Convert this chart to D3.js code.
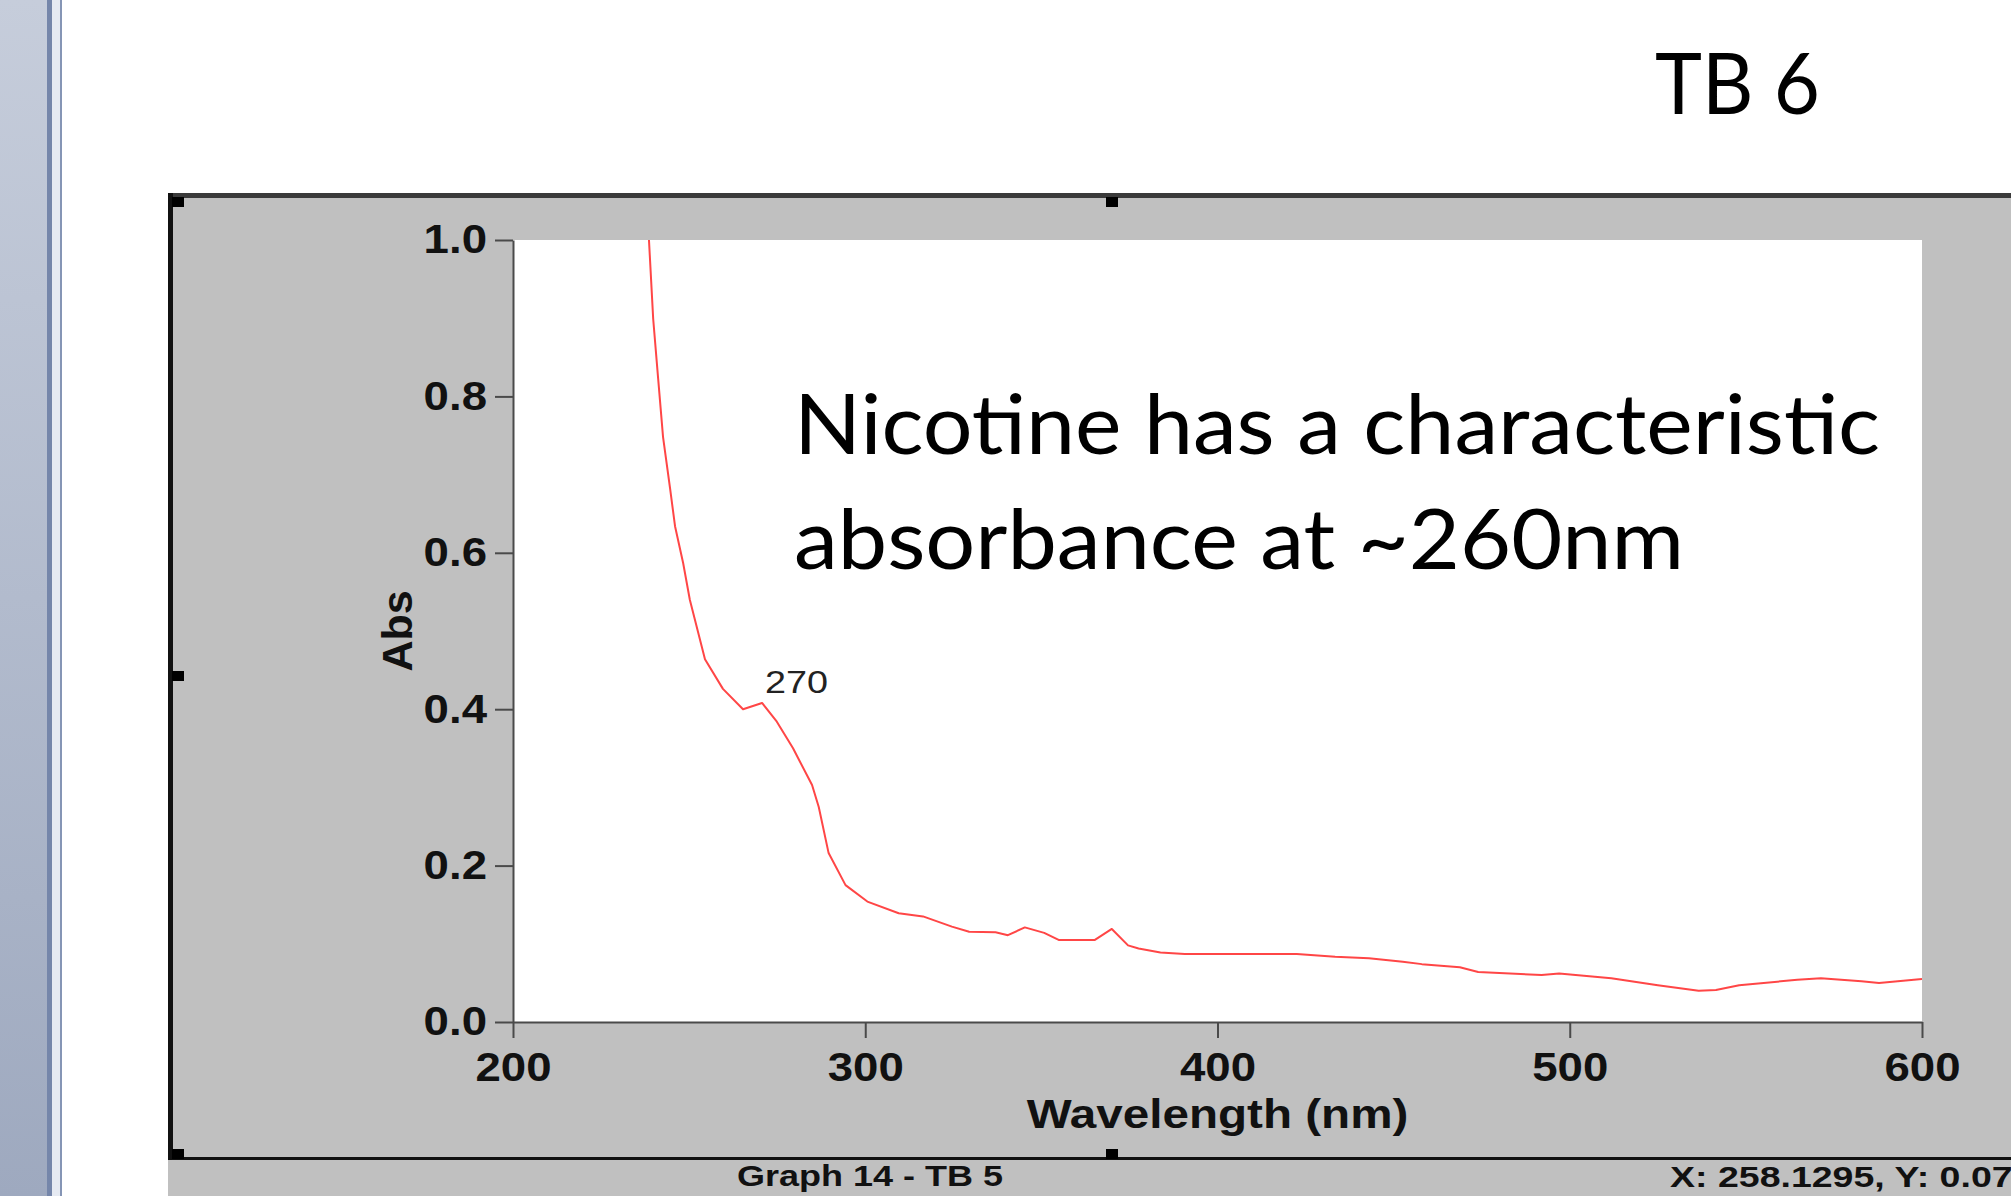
<!DOCTYPE html>
<html>
<head>
<meta charset="utf-8">
<script src="https://cdn.jsdelivr.net/npm/d3@7"></script>
<style>
  html, body { margin: 0; padding: 0; background: #fff; overflow: hidden; }
</style>
</head>
<body>
<svg id="chart" width="2011" height="1196"></svg>
<script>
// spectrum (nm, Abs)
const wavelength = [237.5, 238.6, 239.8, 241.2, 242.6, 244.6, 246.0, 248.3, 250.2, 254.5,
  259.6, 265.3, 270.7, 274.9, 279.5, 284.9, 286.8, 289.6, 294.4, 300.6,
  309.5, 316.4, 324.6, 329.5, 337.0, 340.5, 345.3, 350.8, 354.9, 365.2,
  370.0, 374.6, 377.6, 383.8, 390.7, 422.5, 433.4, 443.0, 452.6, 458.0,
  468.8, 474.0, 492.0, 497.0, 511.8, 525.0, 536.6, 541.5, 548.1, 564.6,
  571.3, 582.8, 587.8, 600.0];
const absorbance = [1.10, 1.0, 0.899, 0.823, 0.748, 0.682, 0.634, 0.587, 0.540, 0.464,
  0.426, 0.400, 0.408, 0.384, 0.350, 0.303, 0.275, 0.216, 0.175, 0.154,
  0.139, 0.135, 0.122, 0.1155, 0.1147, 0.111, 0.121, 0.114, 0.105, 0.105,
  0.119, 0.098, 0.094, 0.089, 0.087, 0.087, 0.0835, 0.0815, 0.077, 0.074,
  0.070, 0.064, 0.060, 0.062, 0.056, 0.047, 0.040, 0.041, 0.047, 0.054,
  0.056, 0.052, 0.050, 0.055];

const xTicks = [200, 300, 400, 500, 600];
const yTicks = [0, 0.2, 0.4, 0.6, 0.8, 1.0];
const xDomain = [200, 600];
const yDomain = [0, 1];

const peakWavelength = 270.7;
const peakAbs = 0.408;
const peakLabel = "270";

const slideTitle = "TB 6";
const noteLines = ["Nicotine has a characteristic", "absorbance at ~260nm"];
const xTitle = "Wavelength (nm)";
const yTitle = "Abs";
const graphTitle = "Graph 14 - TB 5";
const cursorReadout = "X: 258.1295, Y: 0.07";

const W = 2011, H = 1196;
const plot = { left: 513, right: 1922, top: 240, bottom: 1022 };
const GRAPH_FONT = "'Liberation Sans', Arial, sans-serif";
const SLIDE_FONT = "Lato, 'Open Sans', sans-serif";

const svg = d3.select("#chart");

// stretch text horizontally (the screenshot is wider than it is tall)
function stretch(sel, k) {
  sel.each(function () {
    const len = this.getComputedTextLength();
    d3.select(this).attr("textLength", len * k).attr("lengthAdjust", "spacingAndGlyphs");
  });
}

// --- window strip on the left ---
const defs = svg.append("defs");
const grad = defs.append("linearGradient").attr("id", "strip")
  .attr("x1", 0).attr("y1", 0).attr("x2", 0).attr("y2", 1);
grad.append("stop").attr("offset", "0%").attr("stop-color", "#c6cddb");
grad.append("stop").attr("offset", "100%").attr("stop-color", "#9ea9bf");

svg.append("rect").attr("x", 0).attr("y", 0).attr("width", 47).attr("height", H).attr("fill", "url(#strip)");
svg.append("rect").attr("x", 47).attr("y", 0).attr("width", 5).attr("height", H).attr("fill", "#7586aa");
svg.append("rect").attr("x", 52).attr("y", 0).attr("width", 8).attr("height", H).attr("fill", "#e6eaf2");
svg.append("rect").attr("x", 60).attr("y", 0).attr("width", 2).attr("height", H).attr("fill", "#8595b5");

// --- graph window frame ---
svg.append("rect").attr("x", 168).attr("y", 193).attr("width", W - 168).attr("height", H - 193).attr("fill", "#c0c0c0");
svg.append("rect").attr("x", 168).attr("y", 193).attr("width", W - 168).attr("height", 5).attr("fill", "#3a3a3a");
svg.append("rect").attr("x", 168).attr("y", 193).attr("width", 5).attr("height", 1160 - 193).attr("fill", "#111");
svg.append("rect").attr("x", 168).attr("y", 1157).attr("width", W - 168).attr("height", 3).attr("fill", "#111");

// resize handles
[[172, 197], [1106, 197], [172, 671], [172, 1149], [1106, 1149]].forEach(([hx, hy]) => {
  svg.append("rect").attr("x", hx).attr("y", hy).attr("width", 12).attr("height", 10).attr("fill", "#000");
});

// --- scales ---
const x = d3.scaleLinear().domain(xDomain).range([plot.left, plot.right]);
const y = d3.scaleLinear().domain(yDomain).range([plot.bottom, plot.top]);

svg.append("rect")
  .attr("x", x(xDomain[0])).attr("y", y(yDomain[1]))
  .attr("width", x(xDomain[1]) - x(xDomain[0])).attr("height", y(yDomain[0]) - y(yDomain[1]))
  .attr("fill", "#fff");

defs.append("clipPath").attr("id", "plotClip").append("rect")
  .attr("x", x(xDomain[0])).attr("y", y(yDomain[1]))
  .attr("width", x(xDomain[1]) - x(xDomain[0])).attr("height", y(yDomain[0]) - y(yDomain[1]));

// --- axes ---
const yAxis = d3.axisLeft(y).tickValues(yTicks).tickFormat(d3.format(".1f"))
  .tickSize(18).tickSizeOuter(0).tickPadding(8);
const xAxis = d3.axisBottom(x).tickValues(xTicks).tickFormat(d3.format("d"))
  .tickSize(16).tickSizeOuter(0).tickPadding(15);

const gy = svg.append("g").attr("transform", `translate(${plot.left},0)`).call(yAxis);
const gx = svg.append("g").attr("transform", `translate(0,${plot.bottom})`).call(xAxis);

[gx, gy].forEach(g => {
  g.selectAll("path, line").attr("stroke", "#4a4a4a").attr("stroke-width", 2);
  g.selectAll("text")
    .style("font-family", GRAPH_FONT).style("font-weight", "bold")
    .style("font-size", "40px").attr("fill", "#111");
  stretch(g.selectAll("text"), 1.14);
});

// axis titles
const xt = svg.append("text")
  .attr("x", (plot.left + plot.right) / 2).attr("y", 1128)
  .attr("text-anchor", "middle")
  .style("font-family", GRAPH_FONT).style("font-weight", "bold").style("font-size", "40px")
  .attr("fill", "#111").text(xTitle);
stretch(xt, 1.19);

svg.append("text")
  .attr("transform", "translate(412,631) rotate(-90)")
  .attr("text-anchor", "middle")
  .style("font-family", GRAPH_FONT).style("font-weight", "bold").style("font-size", "43px")
  .attr("fill", "#111").text(yTitle);

// --- spectrum ---
const points = wavelength.map((w, i) => [w, absorbance[i]]);
const line = d3.line().x(d => x(d[0])).y(d => y(d[1]));

svg.append("path")
  .datum(points)
  .attr("clip-path", "url(#plotClip)")
  .attr("d", line)
  .attr("fill", "none")
  .attr("stroke", "#ff4646")
  .attr("stroke-width", 2)
  .attr("stroke-linejoin", "round");

// peak label
const pk = svg.append("text")
  .attr("x", x(peakWavelength) + 3).attr("y", y(peakAbs) - 10)
  .style("font-family", GRAPH_FONT).style("font-size", "32px")
  .attr("fill", "#222").text(peakLabel);
stretch(pk, 1.18);

// --- status bar ---
const gt = svg.append("text")
  .attr("x", 870).attr("y", 1186).attr("text-anchor", "middle")
  .style("font-family", GRAPH_FONT).style("font-weight", "bold").style("font-size", "30px")
  .attr("fill", "#111").text(graphTitle);
stretch(gt, 1.2);

const cr = svg.append("text")
  .attr("x", 1670).attr("y", 1187)
  .style("font-family", GRAPH_FONT).style("font-weight", "bold").style("font-size", "30px")
  .attr("fill", "#111").text(cursorReadout);
stretch(cr, 1.25);

// --- slide texts ---
svg.append("text")
  .attr("x", 1655).attr("y", 114)
  .attr("textLength", 165).attr("lengthAdjust", "spacingAndGlyphs")
  .style("font-family", SLIDE_FONT).style("font-size", "85px")
  .attr("fill", "#000").text(slideTitle);

const noteWidths = [1086, 890];
const noteBaselines = [454, 569];
noteLines.forEach((t, i) => {
  svg.append("text")
    .attr("x", 794).attr("y", noteBaselines[i])
    .attr("textLength", noteWidths[i]).attr("lengthAdjust", "spacingAndGlyphs")
    .style("font-family", SLIDE_FONT).style("font-size", "84px")
    .attr("fill", "#000").text(t);
});
</script>
</body>
</html>
